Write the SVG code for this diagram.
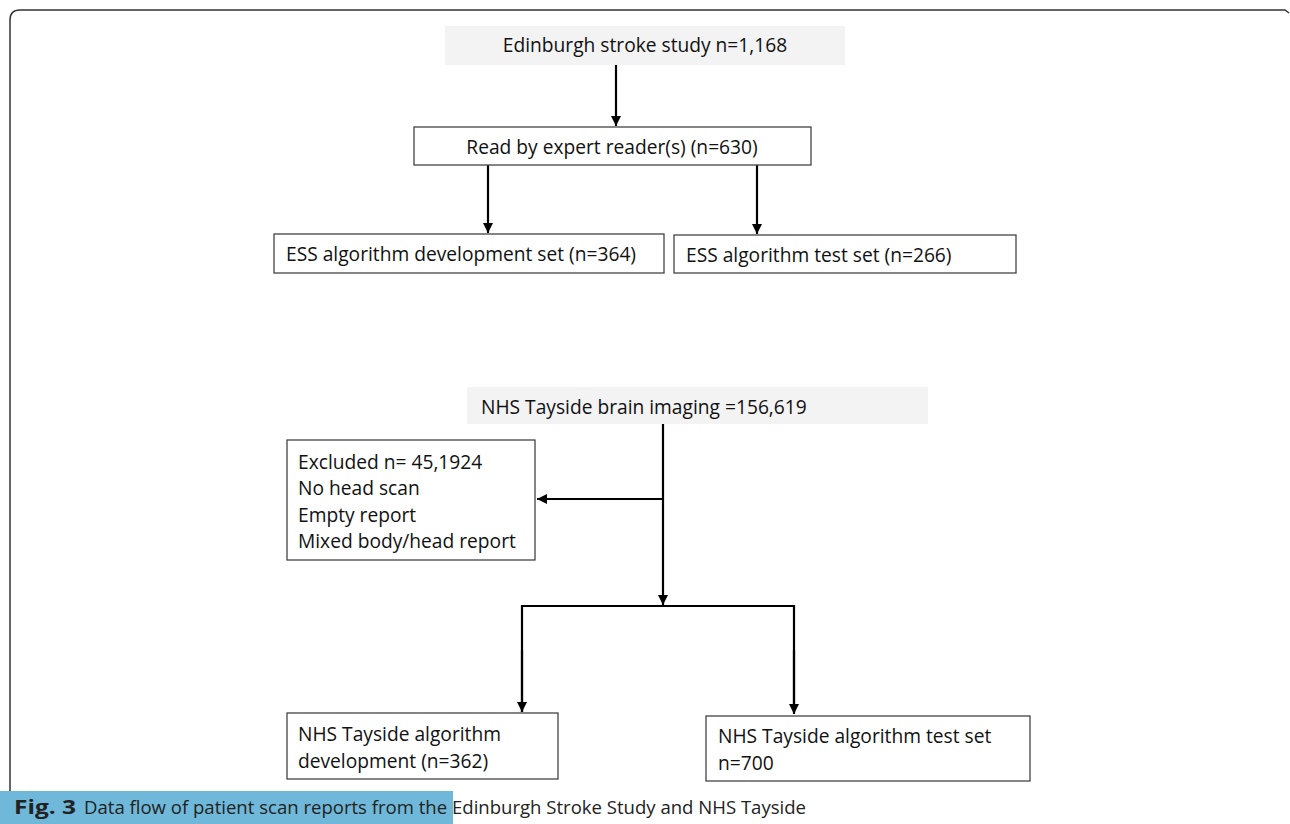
<svg xmlns="http://www.w3.org/2000/svg" width="1290" height="824" viewBox="0 0 1290 824">
<defs>
<marker id="ah" viewBox="0 0 10 10" refX="10" refY="5" markerWidth="10" markerHeight="10" markerUnits="userSpaceOnUse" orient="auto">
<path d="M0,0 L10,5 L0,10 z" fill="#000"/>
</marker>
<style>
.box{fill:#fff;stroke:#444;stroke-width:1.3}
.gbox{fill:#f3f3f3;stroke:none}
.t{font-family:"Open Sans","Noto Sans",sans-serif;font-size:19.2px;fill:#111}
.c{stroke:#000;stroke-width:2.2;fill:none}
.ca{stroke:#000;stroke-width:2.2;fill:none;marker-end:url(#ah)}
.cap{font-family:"Open Sans","Noto Sans",sans-serif;font-size:19px;fill:#222}
</style>
</defs>
<rect width="1290" height="824" fill="#fff"/>
<path d="M10,850 L10,20 Q10,10 20,10 L1285,10 L1289,13" fill="none" stroke="#333" stroke-width="1.5"/>

<g id="connectors">
<path class="ca" d="M616,65 L616,126"/>
<path class="ca" d="M488,165 L488,233"/>
<path class="ca" d="M757,165 L757,234"/>
<path class="ca" d="M663,424 L663,605"/>
<path class="ca" d="M663,499 L537,499"/>
<path class="c" d="M522,712 L522,606 L794,606 L794,712"/>
<path class="ca" d="M522,650 L522,712"/>
<path class="ca" d="M794,650 L794,714"/>
</g>

<g id="ess">
<rect class="gbox" x="445" y="26" width="400" height="39"/>
<text class="t" x="645" y="52" text-anchor="middle">Edinburgh stroke study n=1,168</text>
</g>
<g id="read">
<rect class="box" x="414" y="127" width="397" height="38"/>
<text class="t" x="612" y="154" text-anchor="middle">Read by expert reader(s) (n=630)</text>
</g>
<g id="ess-dev">
<rect class="box" x="274" y="234" width="390" height="39"/>
<text class="t" x="286" y="261">ESS algorithm development set (n=364)</text>
</g>
<g id="ess-test">
<rect class="box" x="674" y="235" width="342" height="38"/>
<text class="t" x="686" y="262">ESS algorithm test set (n=266)</text>
</g>
<g id="nhs">
<rect class="gbox" x="467" y="387" width="461" height="37"/>
<text class="t" x="481" y="414">NHS Tayside brain imaging =156,619</text>
</g>
<g id="excluded">
<rect class="box" x="287" y="440" width="248" height="120"/>
<text class="t" x="298" y="469">Excluded n= 45,1924</text>
<text class="t" x="298" y="495">No head scan</text>
<text class="t" x="298" y="522">Empty report</text>
<text class="t" x="298" y="548">Mixed body/head report</text>
</g>
<g id="nhs-dev">
<rect class="box" x="287" y="713" width="271" height="66"/>
<text class="t" x="298" y="741">NHS Tayside algorithm</text>
<text class="t" x="298" y="768">development (n=362)</text>
</g>
<g id="nhs-test">
<rect class="box" x="706" y="716" width="324" height="65"/>
<text class="t" x="718" y="743">NHS Tayside algorithm test set</text>
<text class="t" x="718" y="770">n=700</text>
</g>

<g id="caption">
<rect x="0" y="791" width="453" height="33" fill="#6fb8d9"/>
<text class="cap" x="14" y="814" font-weight="bold" textLength="62" lengthAdjust="spacingAndGlyphs">Fig. 3</text>
<text class="cap" x="84" y="814" textLength="722" lengthAdjust="spacingAndGlyphs">Data flow of patient scan reports from the Edinburgh Stroke Study and NHS Tayside</text>
</g>
</svg>
